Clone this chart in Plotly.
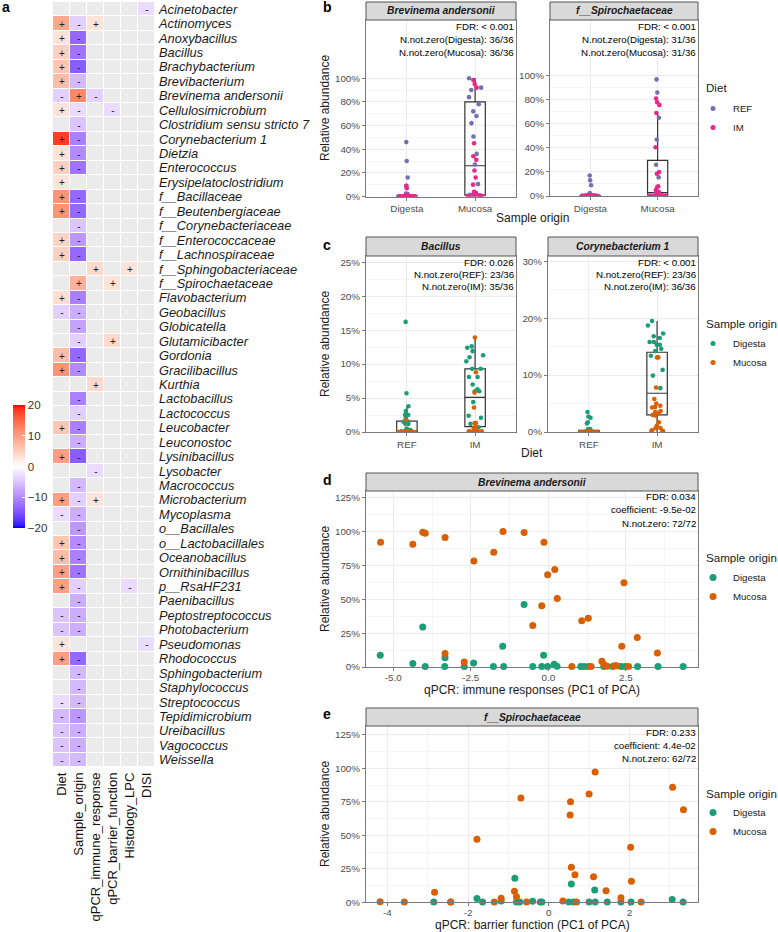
import plotly.graph_objects as go

W, H = 778, 932
FONT = "Liberation Sans, Arial, sans-serif"

def fx(px):
    return px / W

def fy(py):
    return 1 - py / H

# ---------------- Panel a data ----------------
taxa = ["Acinetobacter", "Actinomyces", "Anoxybacillus", "Bacillus", "Brachybacterium",
        "Brevibacterium", "Brevinema andersonii", "Cellulosimicrobium",
        "Clostridium sensu stricto 7", "Corynebacterium 1", "Dietzia", "Enterococcus",
        "Erysipelatoclostridium", "f__Bacillaceae", "f__Beutenbergiaceae",
        "f__Corynebacteriaceae", "f__Enterococcaceae", "f__Lachnospiraceae",
        "f__Sphingobacteriaceae", "f__Spirochaetaceae", "Flavobacterium", "Geobacillus",
        "Globicatella", "Glutamicibacter", "Gordonia", "Gracilibacillus", "Kurthia",
        "Lactobacillus", "Lactococcus", "Leucobacter", "Leuconostoc", "Lysinibacillus",
        "Lysobacter", "Macrococcus", "Microbacterium", "Mycoplasma", "o__Bacillales",
        "o__Lactobacillales", "Oceanobacillus", "Ornithinibacillus", "p__RsaHF231",
        "Paenibacillus", "Peptostreptococcus", "Photobacterium", "Pseudomonas",
        "Rhodococcus", "Sphingobacterium", "Staphylococcus", "Streptococcus",
        "Tepidimicrobium", "Ureibacillus", "Vagococcus", "Weissella"]
variables = ["Diet", "Sample_origin", "qPCR_immune_response", "qPCR_barrier_function",
             "Histology_LPC", "DISI"]
N = None
diet_coef = [N, 9, 3, 5, 6, 7, -4, 3, N, 18, 3, 5, 3, 11, 11, N, 4.5, 5, N, N, 3.5, -4,
             N, N, 7, 11, N, N, N, 6, N, 10, N, N, 10, -3, N, 6, 7, 10, 10, N, -5, -5, 3,
             10, N, N, -3, -6, -5, -5, -5]
origin_coef = [N, -4, -13, -12, -14, -6, 12, -3, -5, -11, -10, -12, N, -13, -13, -5, -9,
               -13, N, 8, -11, -7, -8, -4, -13, -10, N, -11, -4, -11, -7, -14, N, -6, -4,
               -7, -9, -10, -11, -12, -4, -7, -7, -7, N, -13, -6, -6, -6, -9, -7, -7, -6]
immune_coef = [N, 3, N, N, N, N, -4, N, N, N, N, N, N, N, N, N, N, N, 4, N, N, N, N, N,
               N, N, 4, N, N, N, N, N, -3, N, 3, N, N, N, N, N, N, N, N, N, N, N, N, N,
               N, N, N, N, N]
barrier_coef = [N, N, N, N, N, N, N, -3, N, N, N, N, N, N, N, N, N, N, N, 3, N, N, N, 4,
                N, N, N, N, N, N, N, N, N, N, N, N, N, N, N, N, N, N, N, N, N, N, N, N,
                N, N, N, N, N]
lpc_coef = [N, N, N, N, N, N, N, N, N, N, N, N, N, N, N, N, N, N, 3, N, N, N, N, N, N, N,
            N, N, N, N, N, N, N, N, N, N, N, N, N, N, -3, N, N, N, N, N, N, N, N, N, N,
            N, N]
disi_coef = [-3, N, N, N, N, N, N, N, N, N, N, N, N, N, N, N, N, N, N, N, N, N, N, N, N,
             N, N, N, N, N, N, N, N, N, N, N, N, N, N, N, N, N, N, N, -3, N, N, N, N, N,
             N, N, N]
colorbar_ticks = [-20, -10, 0, 10, 20]

# ---------------- Panel b data (relative abundance, %) ----------------
b_origins = ["Digesta", "Mucosa"]
b1_title = "Brevinema andersonii"
b1_dig_ref = [46, 30, 16, 9, 2.5, 2, 1.5, 1, 0.5, 0.5, 0.3, 0.3, 0.2, 0.2, 0.1, 0.1, 0.1, 0.1]
b1_dig_im = [9, 7, 1, 0.5, 0.5, 0.3, 0.3, 0.2, 0.2, 0.2, 0.1, 0.1, 0.1, 0.1, 0.1, 0.1, 0.1, 0.1]
b1_muc_ref = [100, 98.5, 92, 90, 84, 78, 72, 68, 62, 50.7, 36, 27, 10.5, 2, 1.5, 1, 0.5, 0.3]
b1_muc_im = [98.5, 95, 92, 45, 34, 31, 22, 16, 10, 4, 3, 1.5, 1, 0.5, 0.5, 0.3, 0.2, 0.2]
b1_box = dict(lower=[0, 0], q1=[0.1, 1.2], median=[0.2, 26], q3=[0.6, 80], upper=[1.5, 100])
b1_notes = ["FDR: &lt; 0.001", "N.not.zero(Digesta): 36/36", "N.not.zero(Mucosa): 36/36"]

b2_title = "f__Spirochaetaceae"
b2_dig_ref = [17, 13, 9, 2.5, 1.5, 1, 0.5, 0.3, 0.2, 0.1, 0.1, 0, 0, 0.1, 0.1, 0.1, 0.1, 0]
b2_dig_im = [0.5, 0.5, 0.3, 0.3, 0.2, 0.2, 0.1, 0.1, 0.1, 0.1, 0.1, 0.1, 0, 0, 0.1, 0.1, 0.1, 0.1]
b2_muc_ref = [97, 86, 65, 47, 26, 15.5, 7.5, 3.5, 2, 2, 1, 0.5, 0.3, 0.2, 0, 0.1, 0.1, 0.1]
b2_muc_im = [81, 78, 75.6, 69, 40.5, 20, 18.5, 8, 5, 4, 3, 1, 0.5, 0.3, 0.2, 0, 0, 0.1]
b2_box = dict(lower=[0, 0], q1=[0.05, 0.8], median=[0.1, 2.8], q3=[0.4, 29.7], upper=[1.0, 69])
b2_notes = ["FDR: &lt; 0.001", "N.not.zero(Digesta): 31/36", "N.not.zero(Mucosa): 31/36"]

# ---------------- Panel c data ----------------
c_diets = ["REF", "IM"]
c1_title = "Bacillus"
c1_ref_dig = [16.2, 5.7, 3.8, 3.1, 2.5, 2.5, 2.0, 1.5, 1.5, 1.2, 1.2, 0.5, 0.3, 0.2, 0.1, 0.1, 0, 0]
c1_ref_muc = [1.8, 0.1, 0.1, 0, 0, 0, 0, 0, 0, 0, 0, 0, 0.1, 0, 0.05, 0, 0, 0]
c1_im_dig = [12.6, 12.4, 11.9, 11.3, 11.0, 10.4, 9.3, 9.3, 8.1, 8.1, 7.0, 6.3, 6.0, 6.0, 4.4,
             2.4, 2.1, 1.2, 0.7]
c1_im_muc = [13.9, 8.8, 5.8, 3.6, 1.3, 1.3, 0.8, 0.5, 0.3, 0.2, 0.2, 0.1, 0.1, 0.1, 0.1, 0.05, 0]
c1_box = dict(lower=[0, 0], q1=[0.05, 0.8], median=[0.2, 5.1], q3=[1.6, 9.3], upper=[3.8, 13.9])
c1_notes = ["FDR: 0.026", "N.not.zero(REF): 23/36", "N.not.zero(IM): 35/36"]

c2_title = "Corynebacterium 1"
c2_ref_dig = [2.7, 3.5, 1.7, 2.5, 1.5, 0.5, 0.5, 0.3, 0.2, 0.1, 0.1, 0.1, 0, 0, 0, 0, 0, 0]
c2_ref_muc = [0.2, 0.1, 0.1, 0.1, 0.05, 0, 0, 0, 0, 0, 0.05, 0, 0, 0, 0, 0, 0, 0]
c2_im_dig = [19.5, 18.7, 17.3, 16.5, 16.8, 15.8, 15.8, 15.3, 15.3, 14.6, 14.2, 13.4, 10.9, 9.9, 7.7]
c2_im_muc = [13.1, 13.1, 7.8, 5.8, 5.0, 4.6, 4.4, 4.3, 3.7, 3.5, 3.3, 3.0, 2.9, 1.7, 1.1, 0.7,
             0.7, 0.3, 0.2, 0.2, 0.1]
c2_box = dict(lower=[0, 0], q1=[0, 3.0], median=[0.05, 6.8], q3=[0.3, 14.0], upper=[0.7, 19.5])
c2_notes = ["FDR: &lt; 0.001", "N.not.zero(REF): 23/36", "N.not.zero(IM): 36/36"]

# ---------------- Panel d data ----------------
d_title = "Brevinema andersonii"
d_dig_x = [-5.42, -4.37, -4.05, -3.97, -3.34, -3.33, -2.71, -2.41, -1.77, -1.47, -1.44, -0.78,
           -0.50, -0.21, -0.15, -0.02, 0.19, 0.28, 1.05, 1.16, 1.30, 1.79, 2.08, 2.35, 2.48,
           2.88, 3.54, 4.35]
d_dig_y = [8.6, 2.5, 29.6, 0.3, 0.3, 6.9, 0.3, 3.0, 0.3, 15.3, 0.3, 46.2, 0.3, 0.3, 8.6, 0.3,
           2.0, 0.5, 0.3, 0.3, 0.3, 0.3, 0.3, 0.3, 0.3, 0.3, 0.3, 0.3]
d_muc_x = [-5.41, -4.37, -4.05, -3.97, -3.33, -2.40, -1.76, -1.46, -0.78, -0.14, -0.02, 0.21,
           0.29, -0.21, -0.50, 1.08, 1.29, 2.44, 2.87, 2.37, 3.52, -3.33, -2.71, 0.76, 1.38,
           1.73, 1.80, 2.13, 2.21, 2.59, 1.90]
d_muc_y = [92.1, 90.6, 99.5, 98.8, 95.6, 78.3, 84.7, 100.0, 99.3, 92.1, 68.1, 72.1, 50.6, 45.2,
           30.6, 34.1, 36.1, 62.2, 21.8, 15.3, 10.4, 9.9, 3.7, 0.3, 0.3, 4.2, 1.7, 1.0, 1.0,
           0.3, 0.5]
d_notes = ["FDR: 0.034", "coefficient: -9.5e-02", "N.not.zero: 72/72"]

# ---------------- Panel e data ----------------
e_title = "f__Spirochaetaceae"
e_dig_x = [-0.84, 0.56, 1.14, -1.78, 3.06, -2.85, -2.43, -1.64, -1.18, -0.80, -0.72, -0.40,
           -0.21, -0.17, 0.50, 0.62, 1.00, 1.15, 1.45, 1.79, 2.04, 3.33]
e_dig_y = [17.9, 13.6, 9.2, 2.8, 2.0, 0.3, 0.3, 0.3, 1.0, 0.3, 0.3, 0.8, 0.3, 0.3, 0.3, 0.3,
           0.3, 0.3, 0.3, 0.3, 0.3, 0.3]
e_muc_x = [1.15, 3.07, 1.00, -0.69, 0.54, 0.53, 3.34, -1.78, 2.03, 0.56, 0.65, 1.11, 2.05,
           1.42, -2.83, -0.85, -0.80, 1.79, -1.18, -4.18, -3.58, -2.43, -1.35, -0.55, 0.35,
           0.69, 2.29]
e_muc_y = [97.2, 85.8, 80.8, 77.8, 75.1, 65.1, 69.1, 47.0, 41.0, 26.1, 20.6, 19.1, 15.7, 8.6,
           7.5, 8.2, 4.2, 3.4, 3.0, 0.5, 0.3, 0.3, 0.3, 0.3, 1.0, 0.3, 0.3]
e_notes = ["FDR: 0.233", "coefficient: 4.4e-02", "N.not.zero: 62/72"]

COL = {"REF": "#7570B3", "IM": "#E7298A", "Digesta": "#1B9E77", "Mucosa": "#D95F02"}

# ---------------- colour scale (Lab interpolation, like ggplot gradient2) ----------------
def _lin(c):
    c = c / 255.0
    return c / 12.92 if c <= 0.04045 else ((c + 0.055) / 1.055) ** 2.4

def _unlin(c):
    c = max(0.0, min(1.0, c))
    v = 12.92 * c if c <= 0.0031308 else 1.055 * c ** (1 / 2.4) - 0.055
    return int(round(max(0, min(1, v)) * 255))

def _f(t):
    d = 6 / 29
    return t ** (1 / 3) if t > d ** 3 else t / (3 * d * d) + 4 / 29

def _finv(t):
    d = 6 / 29
    return t ** 3 if t > d else 3 * d * d * (t - 4 / 29)

def rgb2lab(rgb):
    r, g, b = (_lin(v) for v in rgb)
    X = (0.4124564 * r + 0.3575761 * g + 0.1804375 * b) / 0.95047
    Y = 0.2126729 * r + 0.7151522 * g + 0.0721750 * b
    Z = (0.0193339 * r + 0.1191920 * g + 0.9503041 * b) / 1.08883
    return (116 * _f(Y) - 16, 500 * (_f(X) - _f(Y)), 200 * (_f(Y) - _f(Z)))

def lab2rgb(lab):
    L, a, b = lab
    fyv = (L + 16) / 116
    X = _finv(fyv + a / 500) * 0.95047
    Y = _finv(fyv)
    Z = _finv(fyv - b / 200) * 1.08883
    r = 3.2404542 * X - 1.5371385 * Y - 0.4985314 * Z
    g = -0.9692660 * X + 1.8760108 * Y + 0.0415560 * Z
    bb = 0.0556434 * X - 0.2040259 * Y + 1.0572252 * Z
    return "rgb(%d,%d,%d)" % (_unlin(r), _unlin(g), _unlin(bb))

lo, mid, hi = rgb2lab((0, 0, 255)), rgb2lab((255, 255, 255)), rgb2lab((255, 0, 0))
cscale = []
nst = 20
for i in range(nst + 1):
    t = i / nst
    cscale.append([t / 2, lab2rgb(tuple(lo[k] + (mid[k] - lo[k]) * t for k in range(3)))])
for i in range(1, nst + 1):
    t = i / nst
    cscale.append([0.5 + t / 2, lab2rgb(tuple(mid[k] + (hi[k] - mid[k]) * t for k in range(3)))])

# ---------------- build figure ----------------
fig = go.Figure()

cols = [diet_coef, origin_coef, immune_coef, barrier_coef, lpc_coef, disi_coef]
zmat = [[cols[j][i] for j in range(len(variables))] for i in range(len(taxa))]
tmat = [["" if v is None else ("+" if v > 0 else "-") for v in row] for row in zmat]

fig.add_trace(go.Heatmap(z=[[1] * len(variables) for _ in taxa], x=variables, y=taxa,
                         colorscale=[[0, "#EBEBEB"], [1, "#EBEBEB"]], showscale=False,
                         xgap=1, ygap=1, hoverinfo="skip", xaxis="x", yaxis="y"))
fig.add_trace(go.Heatmap(z=zmat, x=variables, y=taxa, zmin=-20, zmax=20, colorscale=cscale,
                         text=tmat, texttemplate="%{text}",
                         textfont=dict(size=10, color="#222222", family=FONT),
                         xgap=1, ygap=1, xaxis="x", yaxis="y",
                         colorbar=dict(x=fx(13), xanchor="left", xref="paper",
                                       y=fy(466.5), yanchor="middle", yref="paper",
                                       len=123 / H, lenmode="fraction", thickness=12,
                                       xpad=0, ypad=0,
                                       outlinewidth=0, tickvals=colorbar_ticks,
                                       ticks="inside", ticklen=3, tickcolor="white",
                                       tickfont=dict(size=11.5, color="#333333", family=FONT))))

def pct(vals):
    return [v / 100.0 for v in vals]

def add_box_panel(ax, box, groups, colors, legend_name, show_legend):
    xa, ya = "x" + ax, "y" + ax
    fig.add_trace(go.Box(x=[0, 1], q1=pct(box["q1"]), median=pct(box["median"]),
                         q3=pct(box["q3"]), lowerfence=pct(box["lower"]),
                         upperfence=pct(box["upper"]), width=0.3, whiskerwidth=0,
                         boxpoints=False, fillcolor="rgba(0,0,0,0)",
                         line=dict(color="#333333", width=1.2), showlegend=False,
                         xaxis=xa, yaxis=ya))
    for (cat_idx, vals, name) in groups:
        fig.add_trace(go.Box(x=[cat_idx] * len(vals), y=pct(vals), boxpoints="all",
                             jitter=1.0, pointpos=0, width=0.3,
                             fillcolor="rgba(0,0,0,0)",
                             line=dict(width=0, color="rgba(0,0,0,0)"),
                             marker=dict(color=colors[name], size=4.6),
                             showlegend=False, xaxis=xa, yaxis=ya))
    if show_legend:
        for name in legend_name[1]:
            fig.add_trace(go.Scatter(x=[None], y=[None], mode="markers", name=name,
                                     marker=dict(color=colors[name], size=5),
                                     legend=legend_name[0], legendgroup=legend_name[0] + name,
                                     xaxis=xa, yaxis=ya))

add_box_panel("2", b1_box,
              [(0, b1_dig_ref, "REF"), (0, b1_dig_im, "IM"), (1, b1_muc_ref, "REF"),
               (1, b1_muc_im, "IM")], COL, ("legend", ["REF", "IM"]), True)
add_box_panel("3", b2_box,
              [(0, b2_dig_ref, "REF"), (0, b2_dig_im, "IM"), (1, b2_muc_ref, "REF"),
               (1, b2_muc_im, "IM")], COL, ("legend", ["REF", "IM"]), False)
add_box_panel("4", c1_box,
              [(0, c1_ref_dig, "Digesta"), (0, c1_ref_muc, "Mucosa"), (1, c1_im_dig, "Digesta"),
               (1, c1_im_muc, "Mucosa")], COL, ("legend2", ["Digesta", "Mucosa"]), True)
add_box_panel("5", c2_box,
              [(0, c2_ref_dig, "Digesta"), (0, c2_ref_muc, "Mucosa"), (1, c2_im_dig, "Digesta"),
               (1, c2_im_muc, "Mucosa")], COL, ("legend2", ["Digesta", "Mucosa"]), False)

for (ax, lg, dx, dy, mx, my) in [("6", "legend3", d_dig_x, d_dig_y, d_muc_x, d_muc_y),
                                 ("7", "legend4", e_dig_x, e_dig_y, e_muc_x, e_muc_y)]:
    fig.add_trace(go.Scatter(x=dx, y=pct(dy), mode="markers", name="Digesta",
                             marker=dict(color=COL["Digesta"], size=7), cliponaxis=False,
                             legend=lg, legendgroup=lg + "D", xaxis="x" + ax, yaxis="y" + ax))
    fig.add_trace(go.Scatter(x=mx, y=pct(my), mode="markers", name="Mucosa",
                             marker=dict(color=COL["Mucosa"], size=7), cliponaxis=False,
                             legend=lg, legendgroup=lg + "M", xaxis="x" + ax, yaxis="y" + ax))

# ---------------- axes ----------------
GRID = "#EBEBEB"
MINOR = "#F5F5F5"
LINE = "#7A7A7A"
TICKF = dict(size=9.8, color="#4D4D4D", family=FONT)

def base_axis(**kw):
    d = dict(showline=True, mirror=True, linecolor=LINE, linewidth=1, ticks="outside",
             ticklen=3, tickcolor=LINE, tickfont=TICKF, showgrid=True, gridcolor=GRID,
             gridwidth=1, zeroline=False, automargin=False, fixedrange=True)
    d.update(kw)
    return d

layout = dict(width=W, height=H, margin=dict(l=0, r=0, t=0, b=0), template="none",
              paper_bgcolor="white", plot_bgcolor="white", boxmode="overlay",
              font=dict(family=FONT, color="#1a1a1a"))

layout["xaxis"] = dict(domain=[fx(53), fx(155)], anchor="y", showgrid=False, zeroline=False,
                       showline=False, ticks="", tickangle=-90, automargin=False,
                       tickmode="array", tickvals=variables,
                       tickfont=dict(size=13, color="#111111", family=FONT),
                       ticklabelstandoff=2, fixedrange=True)
layout["yaxis"] = dict(domain=[fy(767), fy(2)], anchor="x", side="right", autorange="reversed",
                       showgrid=False, zeroline=False, showline=False, ticks="",
                       tickmode="array", tickvals=taxa,
                       automargin=False, ticklabelstandoff=3, fixedrange=True,
                       tickfont=dict(size=12.8, color="#1a1a1a", family=FONT, style="italic"))

panels = {
    "2": ((366, 516), (20, 196.5)),
    "3": ((550, 698), (20, 196)),
    "4": ((366, 516), (256, 432)),
    "5": ((548, 698), (256, 432)),
    "6": ((366, 698), (491, 667)),
    "7": ((366, 698), (726, 902.3)),
}

def pct_ticks(vals):
    return [v / 100 for v in vals], ["%d%%" % v for v in vals]

ycfg = {
    "2": ([0, 20, 40, 60, 80, 100], [10, 30, 50, 70, 90], 1.492),
    "3": ([0, 20, 40, 60, 80, 100], [10, 30, 50, 70, 90], 1.464),
    "4": ([0, 5, 10, 15, 20, 25], [2.5, 7.5, 12.5, 17.5, 22.5], 0.259),
    "5": ([0, 10, 20, 30], [5, 15, 25], 0.309),
    "6": ([0, 25, 50, 75, 100, 125], [12.5, 37.5, 62.5, 87.5, 112.5], 1.30),
    "7": ([0, 25, 50, 75, 100, 125], [12.5, 37.5, 62.5, 87.5, 112.5], 1.316),
}
for ax, ((x0, x1), (y0, y1)) in panels.items():
    tv, tt = pct_ticks(ycfg[ax][0])
    layout["yaxis" + ax] = base_axis(domain=[fy(y1), fy(y0)], anchor="x" + ax,
                                     range=[0, ycfg[ax][2]], tickvals=tv, ticktext=tt,
                                     minor=dict(tickvals=[v / 100 for v in ycfg[ax][1]],
                                                showgrid=True, gridcolor=MINOR, ticks=""))
    if ax in ("2", "3"):
        xk = dict(range=[-0.6, 1.6], tickvals=[0, 1], ticktext=b_origins)
    elif ax in ("4", "5"):
        xk = dict(range=[-0.6, 1.6], tickvals=[0, 1], ticktext=c_diets)
    elif ax == "6":
        xk = dict(range=[-5.88, 4.83], tickvals=[-5, -2.5, 0, 2.5],
                  ticktext=["-5.0", "-2.5", "0.0", "2.5"], ticklabelstandoff=-2,
                  minor=dict(tickvals=[-3.75, -1.25, 1.25, 3.75], showgrid=True,
                             gridcolor=MINOR, ticks=""))
    else:
        xk = dict(range=[-4.53, 3.70], tickvals=[-4, -2, 0, 2], ticktext=["-4", "-2", "0", "2"],
                  ticklabelstandoff=-2,
                  minor=dict(tickvals=[-3, -1, 1, 3], showgrid=True, gridcolor=MINOR,
                             ticks=""))
    layout["xaxis" + ax] = base_axis(domain=[fx(x0), fx(x1)], anchor="y" + ax, **xk)

# ---------------- legends ----------------
def legend_at(top):
    return dict(x=fx(693), y=fy(top), xanchor="left", yanchor="top", bgcolor="rgba(0,0,0,0)",
                font=dict(size=9.6, color="#1a1a1a", family=FONT), tracegroupgap=0,
                itemclick=False, itemdoubleclick=False)

layout["legend"] = legend_at(94)
layout["legend2"] = legend_at(329)
layout["legend3"] = legend_at(563)
layout["legend4"] = legend_at(798)

# ---------------- strips & annotations ----------------
shapes = []
ann = []
strips = [((366, 516), (2, 20), b1_title), ((550, 698), (2, 20), b2_title),
          ((366, 516), (237, 256), c1_title), ((548, 698), (237, 256), c2_title),
          ((366, 698), (473, 491), d_title), ((366, 698), (708, 726), e_title)]
for (x0, x1), (y0, y1), title in strips:
    shapes.append(dict(type="rect", xref="paper", yref="paper", x0=fx(x0), x1=fx(x1),
                       y0=fy(y1), y1=fy(y0), fillcolor="#D9D9D9",
                       line=dict(color="#555555", width=1), layer="above"))
    ann.append(dict(x=fx((x0 + x1) / 2), y=fy((y0 + y1) / 2), xref="paper", yref="paper",
                    text="<b><i>%s</i></b>" % title, showarrow=False,
                    xanchor="center", yanchor="middle",
                    font=dict(size=10.3, color="#1a1a1a", family=FONT)))

note_sets = [(515.5, [26, 39, 52], b1_notes), (697.5, [26, 39, 52], b2_notes),
             (516, [262, 274.5, 287], c1_notes), (698, [262, 274.5, 287], c2_notes),
             (698, [497, 509.5, 523], d_notes), (698, [732, 745, 758], e_notes)]
for xr, ys, notes in note_sets:
    for yy, t in zip(ys, notes):
        ann.append(dict(x=fx(xr), y=fy(yy), xref="paper", yref="paper", text=t,
                        showarrow=False, xanchor="right", yanchor="middle",
                        font=dict(size=9.7, color="#000000", family=FONT)))

for yy in [108, 344, 579, 814]:
    ann.append(dict(x=fx(325), y=fy(yy), xref="paper", yref="paper", text="Relative abundance",
                    showarrow=False, textangle=-90, xanchor="center", yanchor="middle",
                    font=dict(size=12, color="#1a1a1a", family=FONT)))
for yy, t in [(218, "Sample origin"), (453, "Diet"), (690, "qPCR: immune responses (PC1 of PCA)"),
              (925, "qPCR: barrier function (PC1 of PCA)")]:
    ann.append(dict(x=fx(532), y=fy(yy), xref="paper", yref="paper", text=t, showarrow=False,
                    xanchor="center", yanchor="middle",
                    font=dict(size=12, color="#1a1a1a", family=FONT)))
for yy, t in [(87, "Diet"), (323, "Sample origin"), (557, "Sample origin"), (793, "Sample origin")]:
    ann.append(dict(x=fx(704), y=fy(yy), xref="paper", yref="paper", text=t, showarrow=False,
                    xanchor="left", yanchor="middle",
                    font=dict(size=11.6, color="#1a1a1a", family=FONT)))
for (xx, yy, t) in [(5.5, 7, "a"), (327, 7, "b"), (327, 245, "c"), (327, 480, "d"), (327, 714, "e")]:
    ann.append(dict(x=fx(xx), y=fy(yy), xref="paper", yref="paper", text="<b>%s</b>" % t,
                    showarrow=False, xanchor="center", yanchor="middle",
                    font=dict(size=14, color="#000000", family=FONT)))

layout["shapes"] = shapes
layout["annotations"] = ann
fig.update_layout(**layout)
fig.write_html("out.html", config={"displayModeBar": False},
               post_script="document.body.style.margin='0';document.body.style.overflow='hidden';")
